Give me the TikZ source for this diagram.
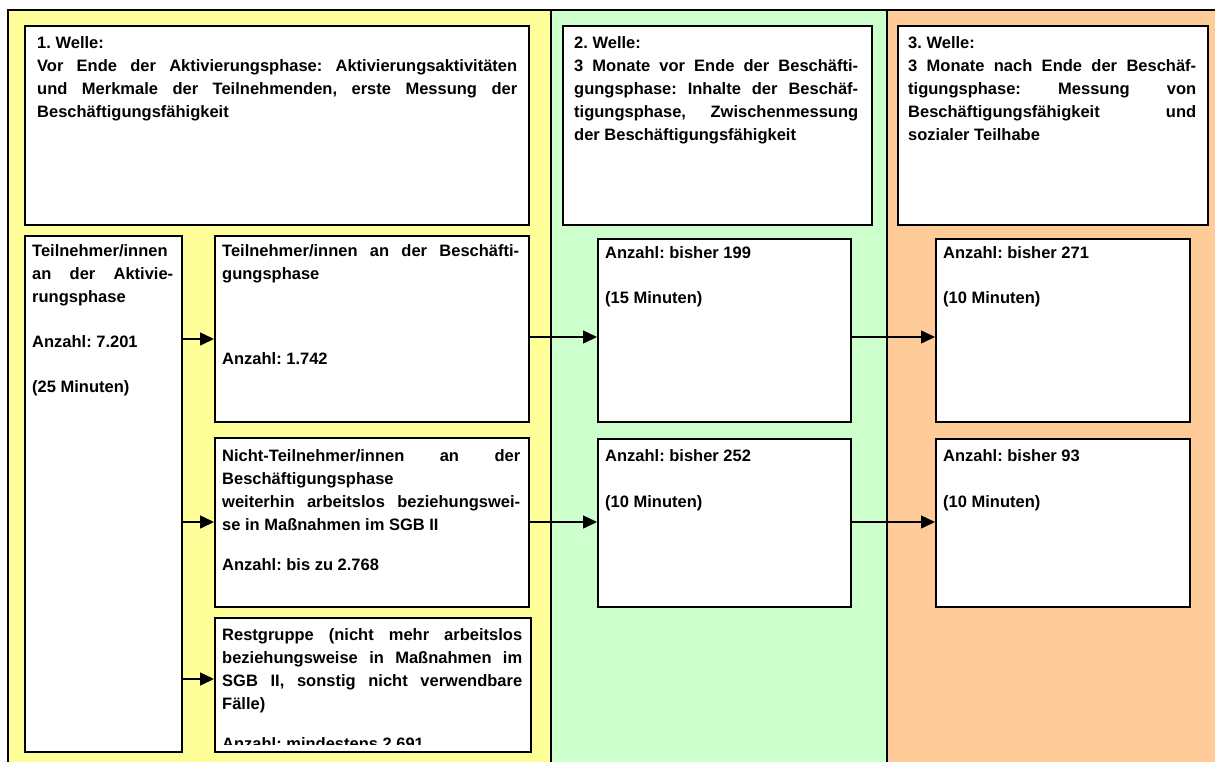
\documentclass[tikz,border=0pt]{standalone}
\usepackage{fontspec}
\setmainfont{Liberation Sans}
\usetikzlibrary{arrows.meta}
\definecolor{cyel}{HTML}{FFFF99}
\definecolor{cgrn}{HTML}{CCFFCC}
\definecolor{corg}{HTML}{FFCC99}
\newcommand\txtfont{\fontsize{16.5}{23}\selectfont\bfseries\tolerance=10000 \hyphenpenalty=10000 \frenchspacing}
\tikzset{
 box/.style={draw=black, line width=1.6pt, fill=white, inner sep=0pt, anchor=north west},
 txt/.style={anchor=north west, inner sep=0pt, align=justify, font=\txtfont},
 arr/.style={line width=1.5pt, -{Triangle[length=14pt,width=13pt]}},
 divider/.style={line width=1.5pt},
 frame/.style={line width=2pt}
}
\begin{document}
\begin{tikzpicture}[x=1pt,y=-1pt]
\useasboundingbox (0,0) rectangle (1215,761);
\fill[white] (0,0) rectangle (1215,761);
% columns
\fill[cyel] (8,10) rectangle (551,780);
\fill[cgrn] (551,10) rectangle (887,780);
\fill[corg] (887,10) rectangle (1230,780);
\draw[frame] (8,780) -- (8,10) -- (1230,10);
\draw[divider] (551,10) -- (551,780);
\draw[divider] (887,10) -- (887,780);
% boxes
\node[box, minimum width=504pt, minimum height=199pt] (w1) at (24,25) {};
\node[box, minimum width=309pt, minimum height=199pt] (w2) at (562,25) {};
\node[box, minimum width=310pt, minimum height=199pt] (w3) at (897,25) {};
\node[box, minimum width=157pt, minimum height=516pt] (aktiv) at (24,235) {};
\node[box, minimum width=314pt, minimum height=186pt] (besch) at (214,235) {};
\node[box, minimum width=314pt, minimum height=169pt] (nicht) at (214,437) {};
\node[box, minimum width=316pt, minimum height=134pt] (rest) at (214,617) {};
\node[box, minimum width=253pt, minimum height=183pt] (g1) at (597,238) {};
\node[box, minimum width=253pt, minimum height=168pt] (g2) at (597,438) {};
\node[box, minimum width=254pt, minimum height=183pt] (o1) at (935,238) {};
\node[box, minimum width=254pt, minimum height=168pt] (o2) at (935,438) {};
% texts
\node[txt, text width=480pt] (t1) at (37,36) {1. Welle:\\
Vor Ende der Aktivierungsphase: Aktivierungsaktivitäten\linebreak
und Merkmale der Teilnehmenden, erste Messung der\linebreak
Beschäftigungsfähigkeit};
\node[txt, text width=284pt] (t2) at (574,36) {2. Welle:\\
3 Monate vor Ende der Beschäfti-\linebreak
gungsphase: Inhalte der Beschäf-\linebreak
tigungsphase, Zwischenmessung\linebreak
der Beschäftigungsfähigkeit};
\node[txt, text width=288pt] (t3) at (908,36) {3. Welle:\\
3 Monate nach Ende der Beschäf-\linebreak
tigungsphase: Messung von\linebreak
Beschäftigungsfähigkeit und\linebreak
sozialer Teilhabe};
\node[txt, text width=141pt] (ta) at (32,244) {Teilnehmer/innen\\
an der Aktivie-\linebreak
rungsphase\\[22pt]
Anzahl: 7.201\\[22pt]
(25 Minuten)};
\node[txt, text width=297pt] (tb) at (222,244) {Teilnehmer/innen an der Beschäfti-\linebreak
gungsphase\\[62pt]
Anzahl: 1.742};
\node[txt, text width=298pt] (tn) at (222,449) {Nicht-Teilnehmer/innen an der\linebreak
Beschäftigungsphase\\
weiterhin arbeitslos beziehungswei-\linebreak
se in Maßnahmen im SGB II\\[17pt]
Anzahl: bis zu 2.768};
\begin{scope}
\clip (214,617) rectangle (530,744);
\node[txt, text width=300pt] (tr) at (222,628) {Restgruppe (nicht mehr arbeitslos\linebreak
beziehungsweise in Maßnahmen im\linebreak
SGB II, sonstig nicht verwendbare\linebreak
Fälle)\\[17pt]
Anzahl: mindestens 2.691};
\end{scope}
\node[txt, text width=230pt] (tg1) at (605,246) {Anzahl: bisher 199\\[22pt](15 Minuten)};
\node[txt, text width=230pt] (tg2) at (605,449) {Anzahl: bisher 252\\[23pt](10 Minuten)};
\node[txt, text width=230pt] (to1) at (943,246) {Anzahl: bisher 271\\[22pt](10 Minuten)};
\node[txt, text width=230pt] (to2) at (943,449) {Anzahl: bisher 93\\[23pt](10 Minuten)};
% arrows
\draw[arr] (aktiv.east |- 0,339) -- (besch.west |- 0,339);
\draw[arr] (aktiv.east |- 0,522) -- (nicht.west |- 0,522);
\draw[arr] (aktiv.east |- 0,679) -- (rest.west |- 0,679);
\draw[arr] (besch.east |- 0,337) -- (g1.west |- 0,337);
\draw[arr] (nicht.east |- 0,522) -- (g2.west |- 0,522);
\draw[arr] (g1.east |- 0,337) -- (o1.west |- 0,337);
\draw[arr] (g2.east |- 0,522) -- (o2.west |- 0,522);
\end{tikzpicture}
\end{document}
